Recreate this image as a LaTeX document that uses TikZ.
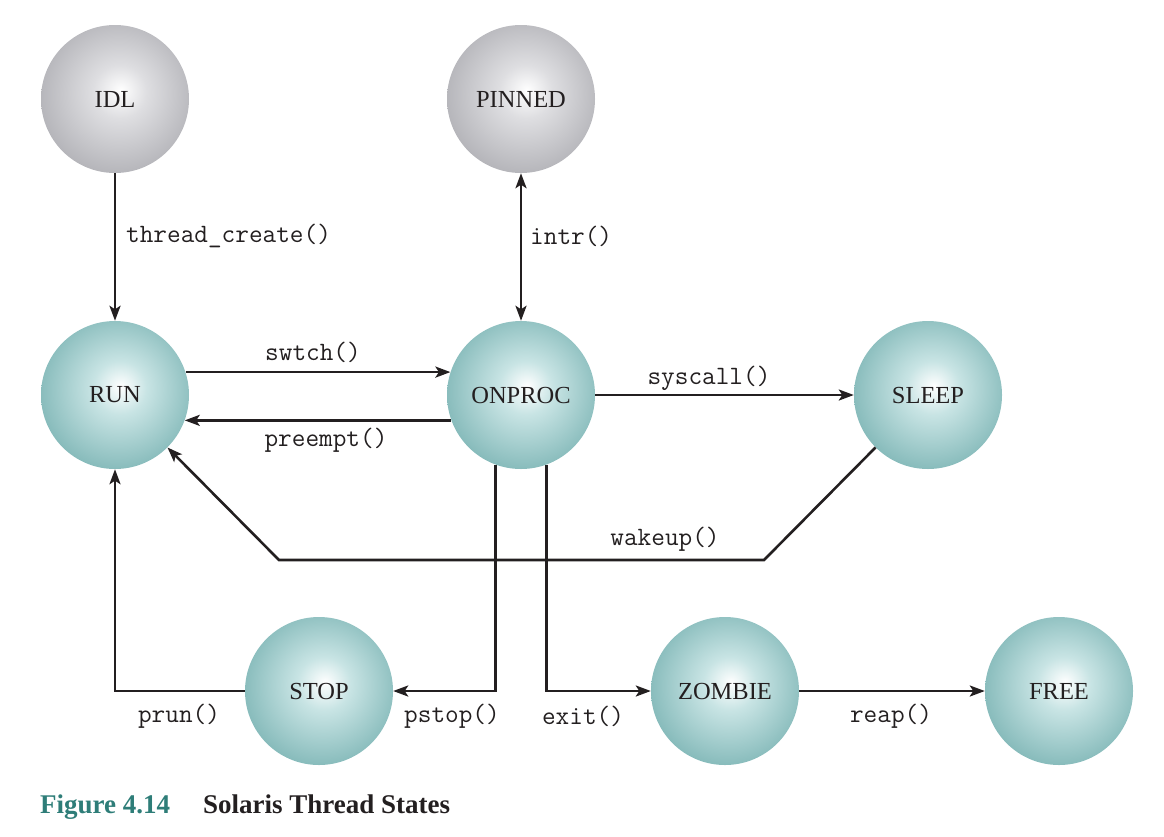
\documentclass[tikz,border=0pt]{standalone}
\usepackage{fontspec}
\setmainfont{Liberation Serif}
\usetikzlibrary{arrows.meta}
\definecolor{tealout}{RGB}{82,152,152}
\definecolor{tealmid}{RGB}{130,184,184}
\definecolor{tealhi}{RGB}{200,228,228}
\definecolor{grayout}{RGB}{134,134,140}
\definecolor{graymid}{RGB}{178,178,183}
\definecolor{grayhi}{RGB}{222,222,225}
\definecolor{ink}{RGB}{35,31,32}
\definecolor{figteal}{RGB}{46,125,120}
\pgfdeclareradialshading{tealball}{\pgfpoint{2bp}{3bp}}{color(0bp)=(white); color(9bp)=(tealhi); color(28bp)=(tealmid); color(50bp)=(tealout)}
\pgfdeclareradialshading{grayball}{\pgfpoint{2bp}{3bp}}{color(0bp)=(white); color(9bp)=(grayhi); color(28bp)=(graymid); color(50bp)=(grayout)}
\tikzset{
  state/.style={circle, minimum size=148pt, inner sep=0pt, shading=tealball, font=\fontsize{24.5}{24.5}\selectfont, text=ink},
  gstate/.style={state, shading=grayball},
  tip/.tip={Stealth[length=15pt,width=11pt,inset=3.5pt]},
  conn/.style={draw=ink, line width=2.6pt, -tip},
  lbl/.style={font=\ttfamily\fontsize{26.5}{26.5}\selectfont, text=ink, inner sep=0pt}
}
\begin{document}
\begin{tikzpicture}[x=1pt,y=-1pt]
\useasboundingbox (0,0) rectangle (1164,836);
\node[gstate] (IDL) at (115,99) {IDL};
\node[gstate] (PINNED) at (521,99) {PINNED};
\node[state] (RUN) at (115,395) {RUN};
\node[state] (ONPROC) at (521,395) {ONPROC};
\node[state] (SLEEP) at (928,395) {SLEEP};
\node[state] (STOP) at (319,691) {STOP};
\node[state] (ZOMBIE) at (725,691) {ZOMBIE};
\node[state] (FREE) at (1059,691) {FREE};

\coordinate (w1) at (764,560);
\coordinate (w2) at (279,560);

\draw[conn] (IDL) -- (RUN);
\draw[conn, tip-tip] (PINNED) -- (ONPROC);
\draw[conn] (RUN.18) -- (ONPROC.162);
\draw[conn] (ONPROC.-160) -- (RUN.-20);
\draw[conn] (ONPROC) -- (SLEEP);
\draw[conn] (SLEEP.225) -- (w1) -- (w2) -- (RUN.-45);
\draw[conn] (ONPROC.250) |- (STOP.east);
\draw[conn] (ONPROC.290) |- (ZOMBIE.west);
\draw[conn] (STOP.west) -| (RUN.south);
\draw[conn] (ZOMBIE) -- (FREE);

\node[lbl, anchor=west] (lcreate) at (126,236) {thread\_create()};
\node[lbl, anchor=west] (lintr) at (530,236) {intr()};
\node[lbl] (lswtch) at (313,352) {swtch()};
\node[lbl] (lpre) at (326,440) {preempt()};
\node[lbl] (lsys) at (709,378) {syscall()};
\node[lbl] (lwake) at (665,539) {wakeup()};
\node[lbl] (lprun) at (179,716) {prun()};
\node[lbl] (lpstop) at (452,716) {pstop()};
\node[lbl] (lexit) at (583,716) {exit()};
\node[lbl] (lreap) at (891,716) {reap()};

\node[anchor=base west, inner sep=0pt, font=\bfseries\fontsize{27}{27}\selectfont, text=figteal] (fig) at (40,813) {Figure 4.14};
\node[anchor=base west, inner sep=0pt, font=\bfseries\fontsize{27}{27}\selectfont, text=ink] (cap) at (203,813) {Solaris Thread States};
\end{tikzpicture}
\end{document}
